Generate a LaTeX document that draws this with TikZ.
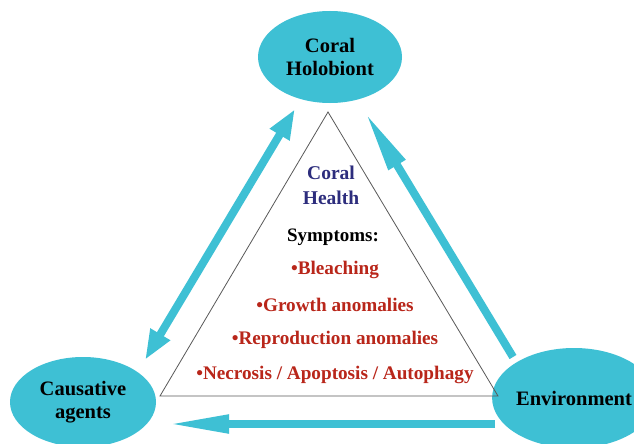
\documentclass[tikz,border=0pt]{standalone}
\usepackage{fontspec}
\setmainfont{Liberation Serif}
\usetikzlibrary{shapes.geometric, arrows.meta, positioning}
\definecolor{coralcyan}{RGB}{62,192,212}
\definecolor{healthblue}{RGB}{45,45,125}
\definecolor{symred}{RGB}{185,38,26}
\tikzstyle{actor} = [ellipse, fill=coralcyan, inner sep=0pt, text centered, align=center, font=\fontsize{20.5}{23}\selectfont\bfseries]
\tikzstyle{symptom} = [text=symred, inner sep=0pt, font=\fontsize{19.2}{21}\selectfont\bfseries]
\tikzstyle{bigarrow} = [line width=8pt, draw=coralcyan]

\begin{document}
\begin{tikzpicture}[x=1pt, y=-1pt, node distance=35pt]
\useasboundingbox[fill=white] (0,0) rectangle (634,444);
% Placement of nodes
\node (holobiont) [actor, minimum width=144pt, minimum height=92pt] at (330,57) {Coral\\Holobiont};
\node (causative) [actor, minimum width=146pt, minimum height=90pt] at (83,402) {Causative\\agents};
\node (environment) [actor, minimum width=148pt, minimum height=100pt] at (574,398) {Environment};

% triangle
\coordinate (triA) at (160,396);
\coordinate (triB) at (498,396);
\coordinate (triC) at (328,112);
\draw [draw=black!65, line width=0.8pt] (triA) -- (triB) -- (triC) -- cycle;

\node (health) [text=healthblue, align=center, font=\fontsize{19.5}{25}\selectfont\bfseries] at (331,185) {Coral\\Health};
\node (symptoms) [font=\fontsize{19}{21}\selectfont\bfseries, inner sep=0pt] at (333,237) {Symptoms:};
\node (bleach) [symptom] at (335,270) {\textbullet Bleaching};
\node (growth) [symptom, below of=bleach] {\textbullet Growth anomalies};
\node (repro) [symptom, below of=growth] {\textbullet Reproduction anomalies};
\node (necro) [symptom, below of=repro] {\textbullet Necrosis / Apoptosis / Autophagy};

% arrow ends
\coordinate (leftLow) at (145,360);
\coordinate (leftHigh) at (295,109);
\coordinate (rightLow) at (513,357);
\coordinate (rightHigh) at (365,112);
\coordinate (bottomRight) at (495,424);
\coordinate (bottomLeft) at (167,424);

% Placement of edges
\draw [bigarrow, {Triangle[length=30pt, width=21pt]}-{Triangle[length=30pt, width=21pt]}] (leftLow) -- (leftHigh);
\draw [bigarrow, -{Triangle[length=62pt, width=18pt]}] (rightLow) -- (rightHigh);
\draw [bigarrow, -{Triangle[length=62pt, width=17pt]}] (bottomRight) -- (bottomLeft);

\end{tikzpicture}
\end{document}
